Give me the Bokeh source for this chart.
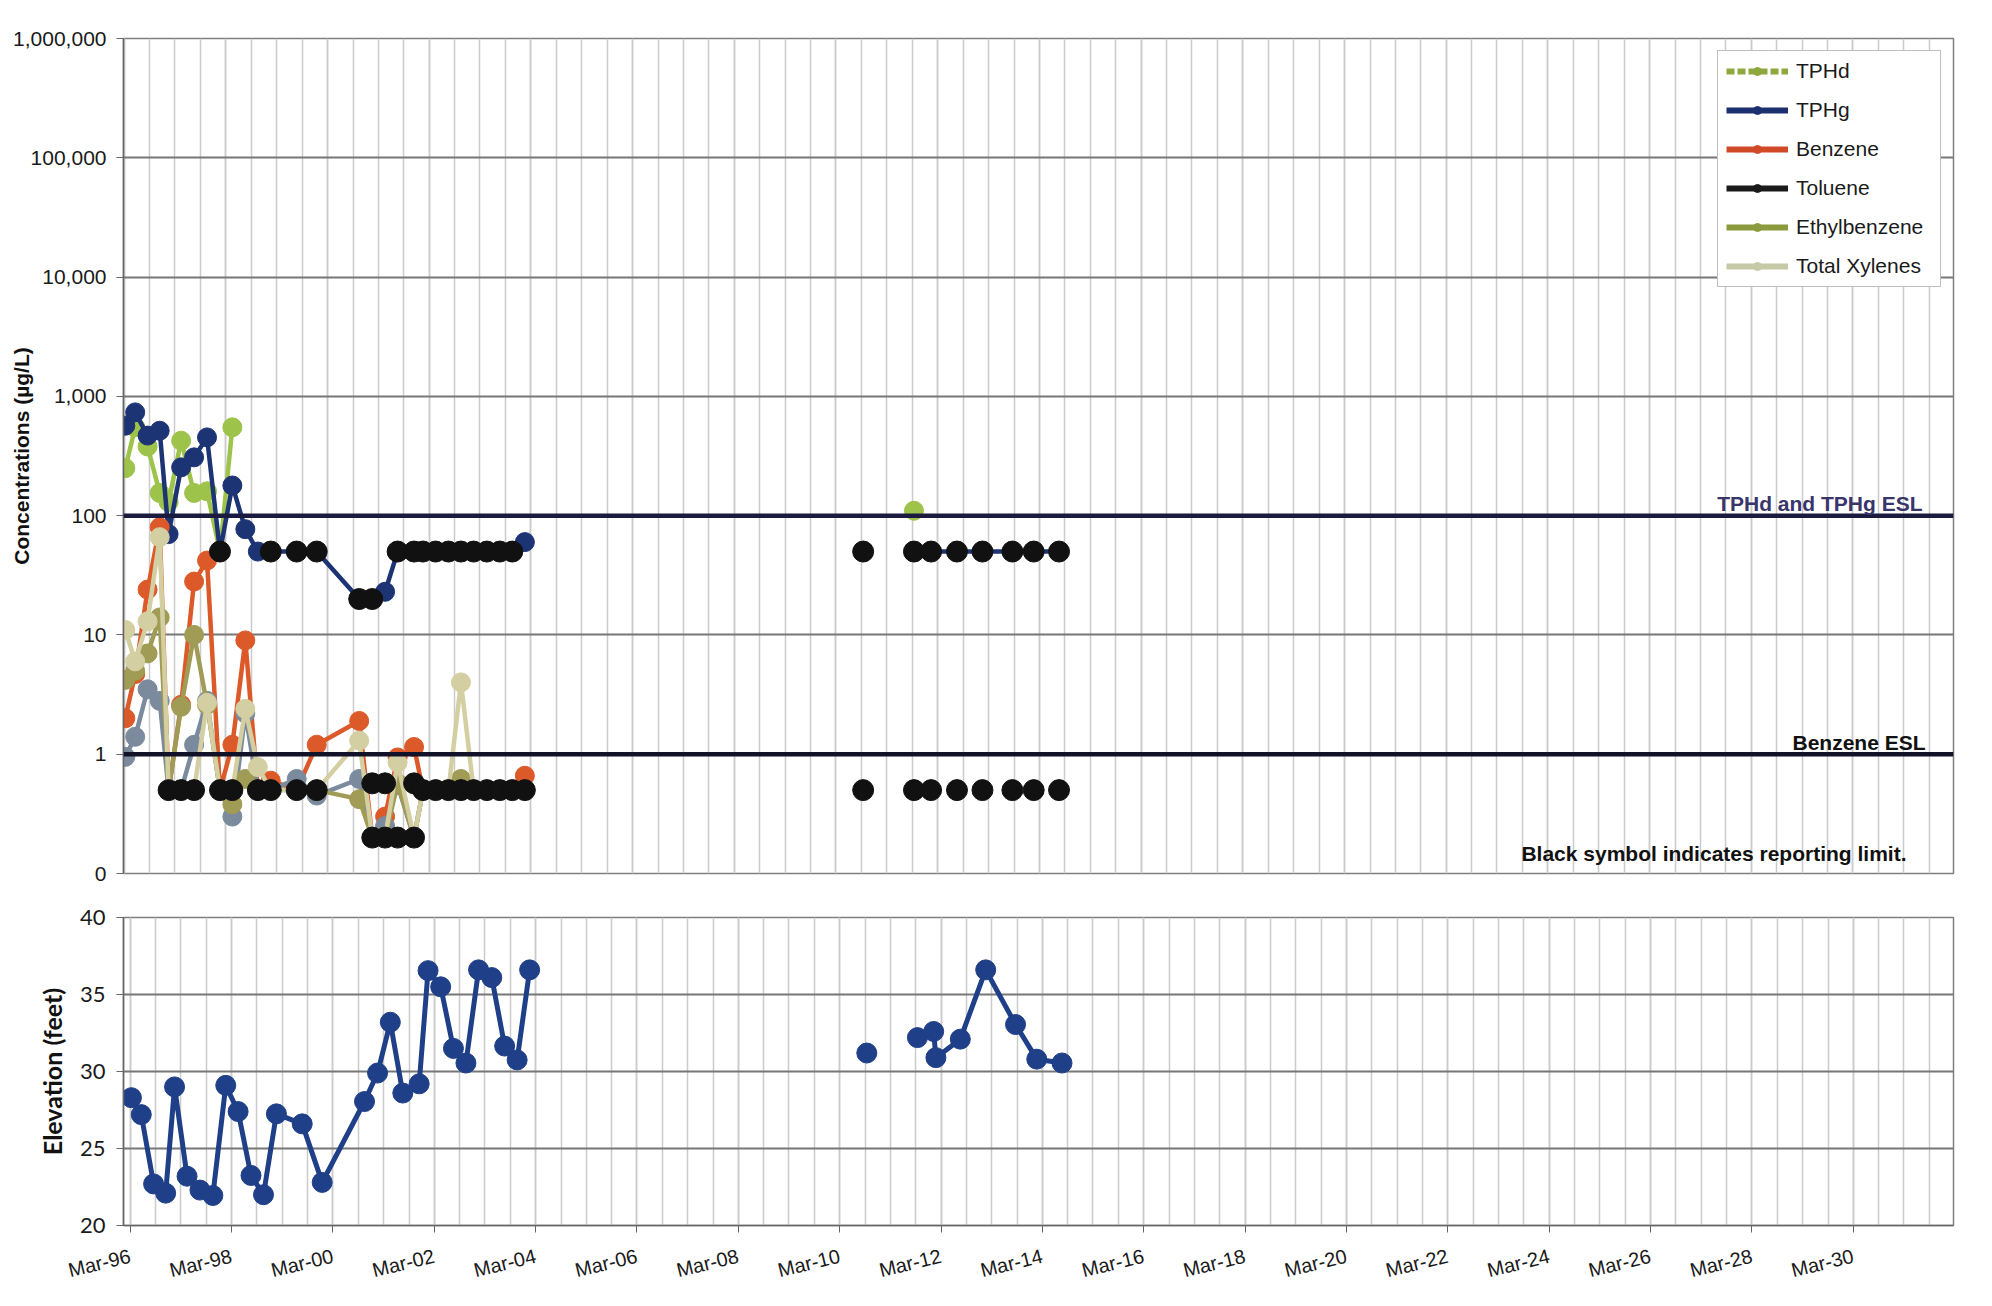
import math
import numpy as np
import pandas as pd
from bokeh.plotting import figure
from bokeh.layouts import column
from bokeh.models import (Range1d, FixedTicker, DatetimeTickFormatter, NumeralTickFormatter,
                          Span, Label, Legend, LegendItem, ColumnDataSource)
from bokeh.embed import file_html
from bokeh.resources import INLINE

# ---------------- data ----------------
CONC_DATES = ["1996-03-10", "1996-05-20", "1996-08-17", "1996-11-12", "1997-01-15",
              "1997-04-15", "1997-07-17", "1997-10-18", "1998-01-19", "1998-04-18",
              "1998-07-20", "1998-10-18", "1999-01-19", "1999-07-24", "1999-12-15",
              "2000-10-15", "2001-01-17", "2001-04-19", "2001-07-18", "2001-11-13",
              "2002-01-16", "2002-04-17", "2002-07-18", "2002-10-16", "2003-01-15",
              "2003-04-20", "2003-07-22", "2003-10-20", "2004-01-18",
              "2007-01-01", "2010-09-13", "2011-03-15", "2011-09-13", "2012-01-14",
              "2012-07-18", "2013-01-17", "2013-08-20", "2014-01-20", "2014-07-21"]

TPHD = [250, 550, 380, 155, 130, 425, 155, 160, 50, 550,
        None, None, None, None, None, None, None, None, None, None,
        None, None, None, None, None, None, None, None, None,
        None, None, None, 110, None, None, None, None, None, None]
TPHG = [568, 734, 469, 515, 70, 254, 308, 453, 50, 179,
        77, 50, 50, 50, 50, 20, 20, 23, 50, 50,
        50, 50, 50, 50, 50, 50, 50, 50, 60,
        None, 50, None, 50, 50, 50, 50, 50, 50, 50]
BENZENE = [2.0, 4.7, 24, 80, 0.5, 2.6, 28, 42, 0.5, 1.2,
           9.0, 0.5, 0.6, 0.5, 1.2, 1.9, 0.2, 0.3, 0.94, 1.15,
           0.5, 0.5, 0.5, 0.5, 0.5, 0.5, 0.5, 0.5, 0.66,
           None, None, None, None, None, None, None, None, None, None]
TOLUENE = [0.95, 1.4, 3.5, 2.8, 0.5, 0.5, 1.2, 2.8, 0.5, 0.3,
           2.2, 0.5, 0.5, 0.62, 0.45, 0.62, 0.2, 0.25, 0.55, 0.2,
           0.5, 0.5, 0.5, 0.5, 0.5, 0.5, 0.5, 0.5, 0.5,
           None, None, None, None, None, None, None, None, None, None]
ETHYLBENZENE = [4.2, 5.0, 7.0, 14, 0.5, 2.5, 10, 2.6, 0.5, 0.38,
                0.62, 0.5, 0.5, 0.5, 0.5, 0.42, 0.2, 0.2, 0.57, 0.2,
                0.5, 0.5, 0.5, 0.62, 0.5, 0.5, 0.5, 0.5, 0.5,
                None, None, None, None, None, None, None, None, None, None]
XYLENES = [11, 6.0, 13, 66, 0.5, 0.5, 0.5, 2.7, 0.5, 0.5,
           2.4, 0.78, 0.5, 0.5, 0.5, 1.3, 0.2, 0.2, 0.85, 0.2,
           0.5, 0.5, 0.5, 4.0, 0.5, 0.5, 0.5, 0.5, 0.5,
           None, None, None, None, None, None, None, None, None, None]

# reporting-limit (black) symbols
ND_TPH_DATES = ["1998-01-19", "1999-01-19", "1999-07-24", "1999-12-15", "2000-10-15",
                "2001-01-17", "2001-07-18", "2001-11-13", "2002-01-16", "2002-04-17",
                "2002-07-18", "2002-10-16", "2003-01-15", "2003-04-20", "2003-07-22",
                "2003-10-20", "2010-09-13", "2011-09-13", "2012-01-14", "2012-07-18",
                "2013-01-17", "2013-08-20", "2014-01-20", "2014-07-21"]
ND_TPH_VALUES = [50, 50, 50, 50, 20, 20, 50, 50, 50, 50, 50, 50, 50, 50, 50, 50,
                 50, 50, 50, 50, 50, 50, 50, 50]
ND_BTEX_DATES = ["1997-01-15", "1997-04-15", "1997-07-17", "1998-01-19", "1998-04-18",
                 "1998-10-18", "1999-01-19", "1999-07-24", "1999-12-15",
                 "2001-01-17", "2001-04-19", "2001-11-13",
                 "2001-01-17", "2001-04-19", "2001-07-18", "2001-11-13",
                 "2002-01-16", "2002-04-17", "2002-07-18", "2002-10-16", "2003-01-15",
                 "2003-04-20", "2003-07-22", "2003-10-20", "2004-01-18",
                 "2010-09-13", "2011-09-13", "2012-01-14", "2012-07-18",
                 "2013-01-17", "2013-08-20", "2014-01-20", "2014-07-21"]
ND_BTEX_VALUES = [0.5, 0.5, 0.5, 0.5, 0.5, 0.5, 0.5, 0.5, 0.5,
                  0.57, 0.57, 0.57,
                  0.2, 0.2, 0.2, 0.2,
                  0.5, 0.5, 0.5, 0.5, 0.5, 0.5, 0.5, 0.5, 0.5,
                  0.5, 0.5, 0.5, 0.5, 0.5, 0.5, 0.5, 0.5]

ELEV_DATES = ["1996-03-10", "1996-05-20", "1996-08-17", "1996-11-12", "1997-01-15",
              "1997-04-15", "1997-07-17", "1997-10-18", "1998-01-19", "1998-04-18",
              "1998-07-20", "1998-10-18", "1999-01-19", "1999-07-24", "1999-12-15",
              "2000-10-15", "2001-01-17", "2001-04-19", "2001-07-18", "2001-11-13",
              "2002-01-16", "2002-04-17", "2002-07-18", "2002-10-16", "2003-01-15",
              "2003-04-20", "2003-07-22", "2003-10-20", "2004-01-18",
              "2007-01-01", "2010-09-13", "2011-03-15", "2011-09-13", "2012-01-08",
              "2012-01-24", "2012-07-18", "2013-01-17", "2013-08-20", "2014-01-20",
              "2014-07-21"]
ELEVATION = [28.3, 27.2, 22.7, 22.1, 29.0, 23.2, 22.3, 21.95, 29.1, 27.4,
             23.25, 22.0, 27.25, 26.6, 22.8, 28.05, 29.9, 33.2, 28.6, 29.2,
             36.55, 35.5, 31.5, 30.55, 36.6, 36.1, 31.65, 30.75, 36.6,
             None, 31.2, None, 32.2, 32.6, 30.9, 32.1, 36.6, 33.05, 30.8, 30.55]

SERIES = [("TPHd", TPHD, "#9dc34b"), ("TPHg", TPHG, "#1c3473"),
          ("Benzene", BENZENE, "#dc5a2a"), ("Toluene", TOLUENE, "#7b8a9c"),
          ("Ethylbenzene", ETHYLBENZENE, "#a09b55"), ("Total Xylenes", XYLENES, "#d3cfa2")]
LEGEND_STYLE = [("TPHd", "#8ea83e", "8 3"), ("TPHg", "#1c2f6e", "solid"),
                ("Benzene", "#d14a28", "solid"), ("Toluene", "#1a1a1a", "solid"),
                ("Ethylbenzene", "#8a9a3c", "solid"), ("Total Xylenes", "#c6caa6", "solid")]
CONC_TICKS = [0.1, 1, 10, 100, 1000, 10000, 100000, 1000000]
ELEV_TICKS = [20, 25, 30, 35, 40]


def num(lst):
    return np.array([np.nan if v is None else v for v in lst], dtype=float)


def ms(s):
    return (pd.Timestamp(s) - pd.Timestamp("1970-01-01")).total_seconds() * 1000.0


MAJOR_X = [ms(f"{y}-03-01") for y in range(1996, 2032, 2)]
MINOR_X = sorted([ms(f"{y}-03-01") for y in range(1996, 2032)] +
                 [ms(f"{y}-09-01") for y in range(1996, 2032)])

FONT = "Liberation Sans"
FRAME_STYLE = {"outline": "2px solid #8c8c8c", "outline-offset": "-3px"}

# ---------------- top chart ----------------
p1 = figure(width=1984, height=896, x_axis_type="datetime", y_axis_type="log",
            x_range=Range1d(pd.Timestamp("1996-02-26"), pd.Timestamp("2032-02-22")),
            y_range=Range1d(0.1, 1e6), output_backend="svg", toolbar_location=None,
            min_border_left=123, min_border_right=31, min_border_top=38, min_border_bottom=23,
            styles=FRAME_STYLE)
p1.background_fill_color = "white"
p1.border_fill_color = "white"
p1.outline_line_color = "#7f7f7f"
p1.outline_line_width = 1.5

xt = FixedTicker(ticks=MAJOR_X, minor_ticks=MINOR_X)
p1.xaxis.ticker = xt
p1.xaxis.visible = False
p1.xgrid.ticker = xt
p1.xgrid.grid_line_color = "#cbcbcb"
p1.xgrid.grid_line_width = 1.5
p1.xgrid.minor_grid_line_color = "#cbcbcb"
p1.xgrid.minor_grid_line_width = 1.5

yt = FixedTicker(ticks=CONC_TICKS, minor_ticks=[])
p1.yaxis.ticker = yt
p1.ygrid.ticker = yt
p1.yaxis.formatter = NumeralTickFormatter(format="0,0")
p1.ygrid.grid_line_color = "#777777"
p1.ygrid.grid_line_width = 2
p1.yaxis.axis_line_color = "#666666"
p1.yaxis.axis_line_width = 1.5
p1.yaxis.major_tick_line_color = "#666666"
p1.yaxis.major_tick_out = 7
p1.yaxis.major_tick_in = 0
p1.yaxis.minor_tick_line_color = None
p1.yaxis.major_label_standoff = 10
p1.yaxis.major_label_text_font = FONT
p1.yaxis.major_label_text_font_size = "21px"
p1.yaxis.major_label_text_color = "#1a1a1a"
p1.yaxis.axis_label = "Concentrations (µg/L)"
p1.yaxis.axis_label_standoff = -23
p1.yaxis.axis_label_text_font = FONT
p1.yaxis.axis_label_text_font_style = "bold"
p1.yaxis.axis_label_text_font_size = "21px"
p1.yaxis.axis_label_text_color = "#111111"

x_conc = pd.to_datetime(CONC_DATES)
for name, vals, col in SERIES:
    src = ColumnDataSource(dict(x=x_conc, y=num(vals)))
    p1.line("x", "y", source=src, line_color=col, line_width=4.5)
    p1.scatter("x", "y", source=src, marker="circle", size=19, fill_color=col, line_color=col)

for dates, vals in [(ND_TPH_DATES, ND_TPH_VALUES), (ND_BTEX_DATES, ND_BTEX_VALUES)]:
    src = ColumnDataSource(dict(x=pd.to_datetime(dates), y=num(vals)))
    p1.scatter("x", "y", source=src, marker="circle", size=21, fill_color="#111111",
               line_color="#111111")

p1.add_layout(Span(location=100, dimension="width", line_color="#1b1b40", line_width=4.5))
p1.add_layout(Span(location=1, dimension="width", line_color="#111128", line_width=4.5))

p1.add_layout(Label(x=1799, x_units="screen", y=126, y_units="data",
                    text="TPHd and TPHg ESL", text_align="right", text_baseline="middle",
                    text_font=FONT, text_font_style="bold", text_font_size="21px",
                    text_color="#37356a"))
p1.add_layout(Label(x=1802, x_units="screen", y=1.25, y_units="data",
                    text="Benzene ESL", text_align="right", text_baseline="middle",
                    text_font=FONT, text_font_style="bold", text_font_size="21px",
                    text_color="#111111"))
p1.add_layout(Label(x=1783, x_units="screen", y=20, y_units="screen",
                    text="Black symbol indicates reporting limit.", text_align="right",
                    text_baseline="middle", text_font=FONT, text_font_style="bold",
                    text_font_size="21px", text_color="#111111"))

OFF_X = [pd.Timestamp("1990-01-01")]
OFF_Y = [1.0]
items = []
for name, col, dash in LEGEND_STYLE:
    r1 = p1.line(OFF_X, OFF_Y, line_color=col, line_width=6, line_dash=dash)
    r2 = p1.scatter(OFF_X, OFF_Y, marker="circle", size=14, fill_color=col, line_color=col)
    items.append(LegendItem(label=name, renderers=[r1, r2]))
legend = Legend(items=items, location="top_right", margin=12, padding=8, spacing=15,
                glyph_width=62, glyph_height=20, label_height=20, label_standoff=8,
                label_width=136,
                label_text_font=FONT, label_text_font_size="21px", label_text_color="#1a1a1a",
                border_line_color="#7f7f7f", border_line_width=1.5,
                background_fill_color="white", background_fill_alpha=1.0)
p1.add_layout(legend)

# ---------------- bottom chart ----------------
p2 = figure(width=1984, height=402, x_axis_type="datetime",
            x_range=Range1d(pd.Timestamp("1996-01-13"), pd.Timestamp("2032-02-22")),
            y_range=Range1d(20, 40), output_backend="svg", toolbar_location=None,
            min_border_left=123, min_border_right=25, min_border_top=21, min_border_bottom=73,
            styles=FRAME_STYLE)
p2.background_fill_color = "white"
p2.border_fill_color = "white"
p2.outline_line_color = "#7f7f7f"
p2.outline_line_width = 1.5

xt2 = FixedTicker(ticks=MAJOR_X, minor_ticks=MINOR_X)
p2.xaxis.ticker = xt2
p2.xgrid.ticker = xt2
p2.xaxis.formatter = DatetimeTickFormatter(years="%b-%y", months="%b-%y", days="%b-%y")
p2.xgrid.grid_line_color = "#cbcbcb"
p2.xgrid.grid_line_width = 1.5
p2.xgrid.minor_grid_line_color = "#cbcbcb"
p2.xgrid.minor_grid_line_width = 1.5
p2.xaxis.axis_line_color = "#666666"
p2.xaxis.axis_line_width = 1.5
p2.xaxis.major_tick_line_color = "#666666"
p2.xaxis.major_tick_out = 7
p2.xaxis.major_tick_in = 0
p2.xaxis.minor_tick_line_color = None
p2.xaxis.major_label_orientation = 0.24
p2.xaxis.major_label_standoff = 23
p2.xaxis.major_label_text_font = FONT
p2.xaxis.major_label_text_font_size = "20px"
p2.xaxis.major_label_text_color = "#1a1a1a"

yt2 = FixedTicker(ticks=ELEV_TICKS, minor_ticks=[])
p2.yaxis.ticker = yt2
p2.ygrid.ticker = yt2
p2.ygrid.grid_line_color = "#777777"
p2.ygrid.grid_line_width = 2
p2.yaxis.axis_line_color = "#666666"
p2.yaxis.axis_line_width = 1.5
p2.yaxis.major_tick_line_color = "#666666"
p2.yaxis.major_tick_out = 7
p2.yaxis.major_tick_in = 0
p2.yaxis.minor_tick_line_color = None
p2.yaxis.major_label_standoff = 11
p2.yaxis.major_label_text_font = "Lato"
p2.yaxis.major_label_text_font_size = "22px"
p2.yaxis.major_label_text_color = "#1a1a1a"
p2.yaxis.axis_label = "Elevation (feet)"
p2.yaxis.axis_label_standoff = 10
p2.yaxis.axis_label_text_font = "Lato"
p2.yaxis.axis_label_text_font_style = "bold"
p2.yaxis.axis_label_text_font_size = "25px"
p2.yaxis.axis_label_text_color = "#111111"

src_e = ColumnDataSource(dict(x=pd.to_datetime(ELEV_DATES), y=num(ELEVATION)))
p2.line("x", "y", source=src_e, line_color="#1f3f88", line_width=5)
p2.scatter("x", "y", source=src_e, marker="circle", size=20, fill_color="#1f3f88",
           line_color="#1f3f88")

layout = column(p1, p2)
open("out.html", "w").write(file_html(layout, INLINE))
